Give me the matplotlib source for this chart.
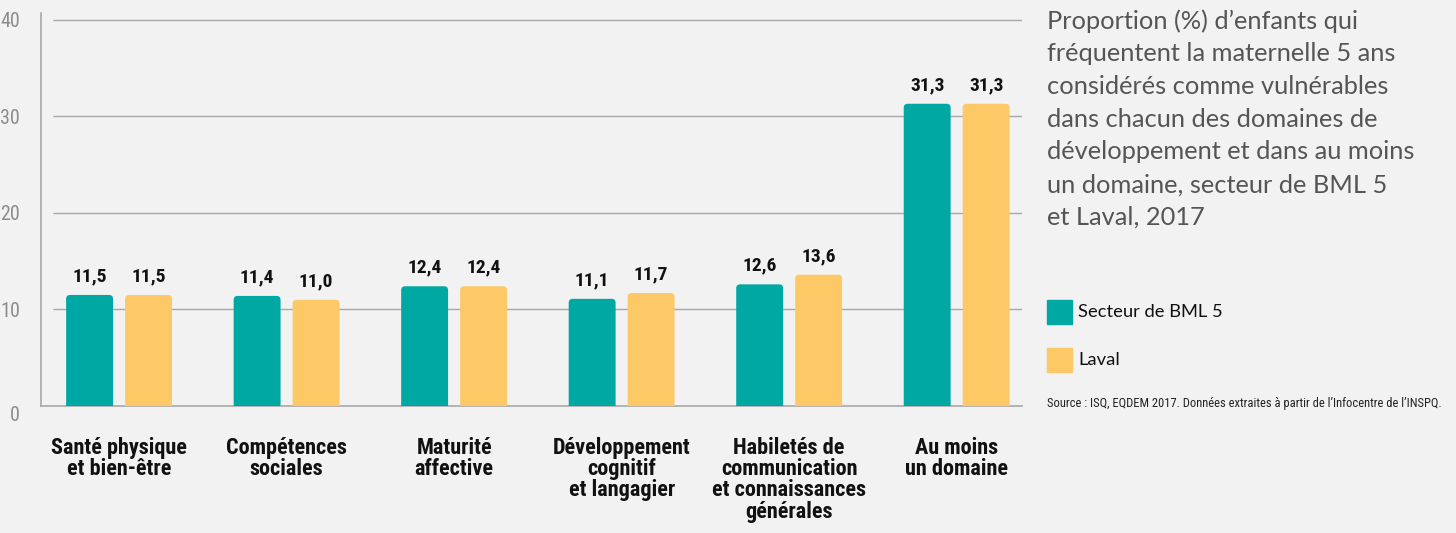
import numpy as np
import matplotlib
matplotlib.use("Agg")
import matplotlib.pyplot as plt
from matplotlib import font_manager
from matplotlib.textpath import TextPath
from matplotlib.font_manager import FontProperties
from matplotlib.patches import FancyBboxPatch

# ── data ──────────────────────────────────────────────────────────────────────
categories = [
    "Santé physique\net bien-être",
    "Compétences\nsociales",
    "Maturité\naffective",
    "Développement\ncognitif\net langagier",
    "Habiletés de\ncommunication\net connaissances\ngénérales",
    "Au moins\nun domaine",
]
bml5  = [11.5, 11.4, 12.4, 11.1, 12.6, 31.3]
laval = [11.5, 11.0, 12.4, 11.7, 13.6, 31.3]
series_names = ["Secteur de BML 5", "Laval"]
yticks = [0, 10, 20, 30, 40]

title = ("Proportion (%) d\u2019enfants qui\n"
         "fréquentent la maternelle 5 ans\n"
         "considérés comme vulnérables\n"
         "dans chacun des domaines de\n"
         "développement et dans au moins\n"
         "un domaine, secteur de BML 5\n"
         "et Laval, 2017")
source = "Source : ISQ, EQDEM 2017. Données extraites à partir de l\u2019Infocentre de l\u2019INSPQ."

# ── fonts: pick a narrow face if one is installed ────────────────────────────
installed = {f.name for f in font_manager.fontManager.ttflist}
narrow_pick = next((n for n in ["Liberation Sans Narrow", "DejaVu Sans Condensed",
                                "Roboto Condensed", "Open Sans Condensed", "Roboto"]
                    if n in installed), "DejaVu Sans")
NARROW = [narrow_pick, "DejaVu Sans"]
BODY   = ["Lato", "DejaVu Sans"]


def fit(text, family, weight, target_px, max_pt):
    # font size (pt) whose rendered width is target_px at 100 dpi
    fp = FontProperties(family=family, weight=weight, size=10)
    wpx = TextPath((0, 0), text, prop=fp).get_extents().width * 100 / 72
    return min(max_pt, 10 * target_px / wpx)


CAT_SIZE = fit("Santé physique", NARROW, "bold", 140, 16)
VAL_SIZE = fit("11,5", NARROW, "bold", 33, 14)
TICK_SIZE = fit("40", NARROW, "normal", 18, 15)
SRC_SIZE = fit(source, NARROW, "normal", 394, 9)
TITLE_SIZE = fit("fréquentent la maternelle 5 ans", BODY, "normal", 347, 19)
LEG_SIZE = fit("Secteur de BML 5", BODY, "normal", 143, 14)

# ── style ─────────────────────────────────────────────────────────────────────
TEAL   = "#00A8A3"
YELLOW = "#FDC967"
BG     = "#F2F2F2"
GRID   = "#A8A8A8"

fig = plt.figure(figsize=(14.56, 5.33), dpi=100, facecolor=BG)
ax = fig.add_axes([41 / 1456, 1 - 406 / 533, (1022 - 41) / 1456, 393 / 533])
ax.set_facecolor("none")

xmin, xmax = -0.466, 5.39
ymax = 40.7
ax.set_xlim(xmin, xmax)
ax.set_ylim(0, ymax)

x = np.arange(len(categories))
w, off = 0.28, 0.176
bars_a = ax.bar(x - off, bml5, w, color=TEAL, zorder=3)
bars_b = ax.bar(x + off, laval, w, color=YELLOW, zorder=3)

# swap the plain rectangles for slightly rounded ones
xu = (xmax - xmin) / 981      # data units per pixel, x
yu = ymax / 393               # data units per pixel, y
for cont in (bars_a, bars_b):
    for r in cont:
        r.set_visible(False)
        p = FancyBboxPatch((r.get_x(), -1), r.get_width(), r.get_height() + 1,
                           boxstyle=f"round,pad=0,rounding_size={4 * xu}",
                           mutation_aspect=yu / xu, facecolor=r.get_facecolor(),
                           edgecolor="none", zorder=3)
        ax.add_patch(p)

for xs, vals in [(x - off, bml5), (x + off, laval)]:
    for xi, v in zip(xs, vals):
        ax.text(xi, v + 1.0, f"{v:.1f}".replace(".", ","), ha="center", va="bottom",
                fontsize=VAL_SIZE, fontweight="bold", family=NARROW, color="#111111")

ax.hlines(yticks[1:], xmin + 0.072, xmax, color=GRID, lw=1, zorder=1)

for s in ["top", "right"]:
    ax.spines[s].set_visible(False)
for s in ["left", "bottom"]:
    ax.spines[s].set_color(GRID)
    ax.spines[s].set_linewidth(1.2)

ax.set_yticks(yticks)
ax.set_yticklabels([str(t) for t in yticks], family=NARROW, fontsize=TICK_SIZE,
                   color="#8C8C8C")
ax.get_yticklabels()[0].set_va("top")
ax.tick_params(axis="y", length=0, pad=15)
ax.set_xticks(x)
cat_ls = 23 / (CAT_SIZE * 100 / 72 * 1.07)
ax.set_xticklabels(categories, family=NARROW, fontsize=CAT_SIZE, fontweight="bold",
                   color="#111111", linespacing=cat_ls, va="top")
ax.tick_params(axis="x", length=0, pad=22)

# ── right-hand text ───────────────────────────────────────────────────────────
title_ls = 33 / (TITLE_SIZE * 100 / 72 * 0.86)
fig.text(1047 / 1456, 1 - 9 / 533, title, ha="left", va="top", family=BODY,
         fontsize=TITLE_SIZE, color="#555555", linespacing=title_ls)

for i, (name, col) in enumerate(zip(series_names, [TEAL, YELLOW])):
    yc = 1 - (312 + 48 * i) / 533
    fig.patches.append(plt.Rectangle((1047 / 1456, yc - 12 / 533), 25 / 1456, 24 / 533,
                                     transform=fig.transFigure, color=col))
    fig.text(1078 / 1456, yc, name, ha="left", va="center", family=BODY,
             fontsize=LEG_SIZE, color="#111111")

fig.text(1047 / 1456, 1 - 403 / 533, source, ha="left", va="center",
         family=NARROW, fontsize=SRC_SIZE, color="#222222")

fig.savefig("out.png", dpi=100, facecolor=BG)
